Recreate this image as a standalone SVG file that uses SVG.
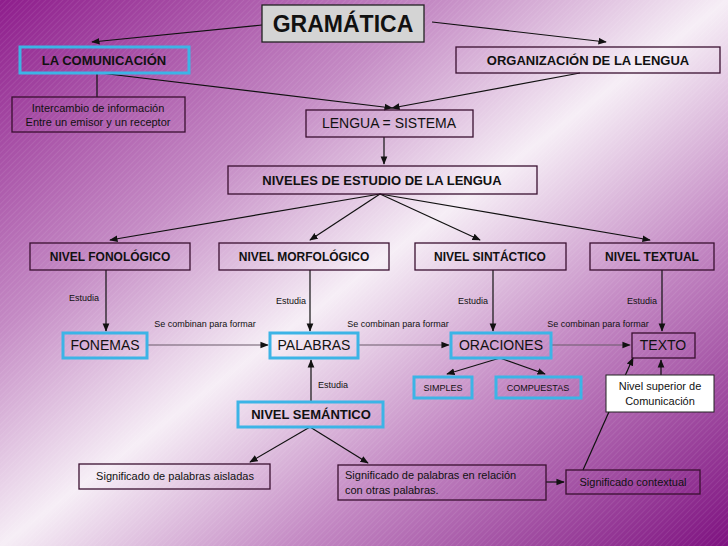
<svg xmlns="http://www.w3.org/2000/svg" width="728" height="546" viewBox="0 0 728 546">
<defs>
<linearGradient id="bg" x1="0" y1="0" x2="1" y2="1">
<stop offset="0" stop-color="#8e1d8c"/>
<stop offset="0.3" stop-color="#c48ac4"/>
<stop offset="0.5" stop-color="#f6eef6"/>
<stop offset="0.7" stop-color="#c48ac4"/>
<stop offset="1" stop-color="#7e1280"/>
</linearGradient>
<pattern id="st" width="4" height="4" patternUnits="userSpaceOnUse" patternTransform="rotate(45)">
<rect width="1" height="4" fill="#ffffff" opacity="0.08"/>
</pattern>
<marker id="a" viewBox="0 0 10 10" refX="9" refY="5" markerWidth="7" markerHeight="7" orient="auto"><path d="M0,1 L10,5 L0,9 z" fill="#111"/></marker>
</defs>
<style>
text{font-family:"Liberation Sans",Arial,sans-serif;fill:#111;text-anchor:middle}
.d{fill:none;stroke:#3a1030;stroke-width:1.3}
.b{fill:none;stroke:#3cb4e6;stroke-width:3}
.t{font-size:13px;font-weight:bold}
.n{font-size:14px}
.s{font-size:11px}
.l{font-size:9px}
#conn line,#conn path{stroke:#111;stroke-width:1.2;fill:none}
</style>
<rect width="728" height="546" fill="url(#bg)"/>
<rect width="728" height="546" fill="url(#st)"/>
<g id="conn">
<line x1="262" y1="25" x2="92" y2="42" marker-end="url(#a)" stroke-width="2.5"/>
<line x1="432" y1="22" x2="606" y2="42" marker-end="url(#a)" stroke-width="2.5"/>
<line x1="97" y1="73" x2="97" y2="97"/>
<line x1="100" y1="73" x2="392" y2="108" marker-end="url(#a)"/>
<line x1="580" y1="73" x2="392" y2="108" marker-end="url(#a)"/>
<line x1="384" y1="137" x2="384" y2="164" marker-end="url(#a)"/>
<line x1="380" y1="194" x2="110" y2="240" marker-end="url(#a)"/>
<line x1="380" y1="194" x2="310" y2="240" marker-end="url(#a)"/>
<line x1="380" y1="194" x2="480" y2="240" marker-end="url(#a)"/>
<line x1="380" y1="194" x2="650" y2="240" marker-end="url(#a)"/>
<line x1="106" y1="270" x2="106" y2="331" marker-end="url(#a)"/>
<line x1="310" y1="270" x2="310" y2="331" marker-end="url(#a)"/>
<line x1="493" y1="270" x2="493" y2="331" marker-end="url(#a)"/>
<line x1="662" y1="270" x2="662" y2="331" marker-end="url(#a)"/>
<line x1="147" y1="345" x2="268" y2="345" marker-end="url(#a)" style="stroke:#6a5a6a"/>
<line x1="358" y1="345" x2="449" y2="345" marker-end="url(#a)" style="stroke:#6a5a6a"/>
<line x1="551" y1="345" x2="630" y2="345" marker-end="url(#a)" style="stroke:#6a5a6a"/>
<line x1="311" y1="401" x2="311" y2="360" marker-end="url(#a)"/>
<line x1="500" y1="358" x2="447" y2="374" marker-end="url(#a)"/>
<line x1="500" y1="358" x2="545" y2="374" marker-end="url(#a)"/>
<line x1="661" y1="375" x2="661" y2="360" marker-end="url(#a)"/>
<line x1="310" y1="427" x2="250" y2="462" marker-end="url(#a)"/>
<line x1="310" y1="427" x2="368" y2="463" marker-end="url(#a)"/>
<line x1="546" y1="482" x2="564" y2="482" marker-end="url(#a)"/>
<line x1="583" y1="470" x2="633" y2="358" marker-end="url(#a)"/>
</g>
<g id="labels">
<text class="l" x="84" y="301">Estudia</text>
<text class="l" x="291" y="304">Estudia</text>
<text class="l" x="473" y="304">Estudia</text>
<text class="l" x="642" y="304">Estudia</text>
<text class="l" x="205" y="327">Se combinan para formar</text>
<text class="l" x="398" y="327">Se combinan para formar</text>
<text class="l" x="598" y="327">Se combinan para formar</text>
<text class="l" x="333" y="388">Estudia</text>
</g>
<g id="gramatica"><rect x="262" y="5" width="162" height="37" fill="#d4d4d4" stroke="#222" stroke-width="1.3"/><text x="343" y="32" style="font-size:23px;font-weight:bold">GRAMÁTICA</text></g>
<g id="comunicacion"><rect class="b" x="20" y="47" width="169" height="26"/><text class="t" x="104" y="65">LA COMUNICACIÓN</text></g>
<g id="organizacion"><rect class="d" x="456" y="47" width="264" height="26"/><text class="t" x="588" y="65">ORGANIZACIÓN DE LA LENGUA</text></g>
<g id="intercambio"><rect class="d" x="12" y="97" width="173" height="35"/><text class="s" x="98" y="112">Intercambio de información</text><text class="s" x="98" y="126">Entre un emisor y un receptor</text></g>
<g id="lengua"><rect class="d" x="306" y="110" width="167" height="27"/><text class="n" x="389" y="128">LENGUA = SISTEMA</text></g>
<g id="niveles"><rect class="d" x="228" y="166" width="309" height="28"/><text class="t" x="382" y="185">NIVELES DE ESTUDIO DE LA LENGUA</text></g>
<g id="fonologico"><rect class="d" x="30" y="243" width="160" height="27"/><text class="t" x="110" y="261" style="font-size:12px">NIVEL FONOLÓGICO</text></g>
<g id="morfologico"><rect class="d" x="219" y="243" width="170" height="27"/><text class="t" x="304" y="261" style="font-size:12px">NIVEL MORFOLÓGICO</text></g>
<g id="sintactico"><rect class="d" x="415" y="243" width="151" height="27"/><text class="t" x="490" y="261" style="font-size:12px">NIVEL SINTÁCTICO</text></g>
<g id="textual"><rect class="d" x="590" y="243" width="124" height="27"/><text class="t" x="652" y="261" style="font-size:12px">NIVEL TEXTUAL</text></g>
<g id="fonemas"><rect class="b" x="63" y="333" width="84" height="25"/><text class="n" x="105" y="350">FONEMAS</text></g>
<g id="palabras"><rect class="b" x="270" y="333" width="88" height="25"/><text class="n" x="314" y="350">PALABRAS</text></g>
<g id="oraciones"><rect class="b" x="451" y="333" width="100" height="25"/><text class="n" x="501" y="350">ORACIONES</text></g>
<g id="texto"><rect class="d" x="632" y="333" width="63" height="25"/><text class="n" x="663" y="350">TEXTO</text></g>
<g id="simples"><rect class="b" x="414" y="377" width="58" height="21"/><text class="l" x="443" y="391">SIMPLES</text></g>
<g id="compuestas"><rect class="b" x="496" y="377" width="85" height="21"/><text class="l" x="538" y="391">COMPUESTAS</text></g>
<g id="superior"><rect x="606" y="375" width="108" height="37" fill="#fff" stroke="#222" stroke-width="1"/><text class="s" x="660" y="390">Nivel superior de</text><text class="s" x="660" y="405">Comunicación</text></g>
<g id="semantico"><rect class="b" x="238" y="402" width="145" height="25"/><text class="t" x="311" y="419">NIVEL SEMÁNTICO</text></g>
<g id="aisladas"><rect class="d" x="79" y="464" width="191" height="25"/><text class="s" x="175" y="480">Significado de palabras aisladas</text></g>
<g id="relacion"><rect class="d" x="338" y="465" width="208" height="35"/><text class="s" x="345" y="479" style="text-anchor:start">Significado de palabras en relación</text><text class="s" x="345" y="494" style="text-anchor:start">con otras palabras.</text></g>
<g id="contextual"><rect class="d" x="566" y="470" width="134" height="24"/><text class="s" x="633" y="486">Significado contextual</text></g>
</svg>
